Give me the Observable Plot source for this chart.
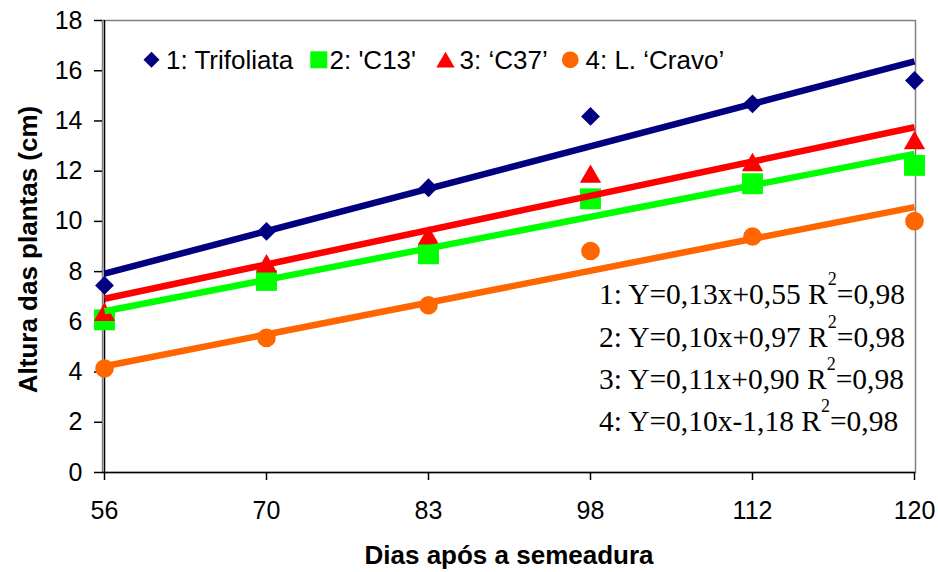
<!DOCTYPE html>
<html>
<head>
<meta charset="utf-8">
<script src="https://cdn.jsdelivr.net/npm/d3@7"></script>
<script src="https://cdn.jsdelivr.net/npm/@observablehq/plot@0.6"></script>
<style>
  html, body { margin: 0; padding: 0; background: #fff; }
</style>
</head>
<body>
<div id="chart"></div>
<script>
// ---- data ----
const days = ["56", "70", "83", "98", "112", "120"];
const seriesNames = ["1: Trifoliata", "2: 'C13'", "3: \u2018C37\u2019", "4: L. \u2018Cravo\u2019"];
const trifoliata = [7.45, 9.60, 11.34, 14.18, 14.68, 15.61];
const c13 = [6.08, 7.65, 8.71, 10.90, 11.50, 12.23];
const c37 = [6.40, 8.33, 9.44, 11.90, 12.36, 13.24];
const cravo = [4.14, 5.36, 6.66, 8.82, 9.40, 10.01];
const trendStart = [7.92, 6.42, 6.92, 4.23];
const trendEnd = [16.37, 12.69, 13.75, 10.57];
const equations = [
  "1: Y=0,13x+0,55 R\u00b2=0,98",
  "2: Y=0,10x+0,97 R\u00b2=0,98",
  "3: Y=0,11x+0,90 R\u00b2=0,98",
  "4: Y=0,10x-1,18 R\u00b2=0,98"
];
const yTicks = [0, 2, 4, 6, 8, 10, 12, 14, 16, 18];
const xTitle = "Dias após a semeadura";
const yTitle = "Altura das plantas (cm)";

// ---- styling ----
const allValues = [trifoliata, c13, c37, cravo];
const colors = ["#000080", "#00ff00", "#ff0000", "#ff6600"];
const symbols = ["diamond2", "square", "triangle", "circle"];
const radii = [8.5, 11.8, 7.9, 9.3];
const legendRadii = [7.2, 9.6, 6.8, 8.4];
const symbolDy = [0, 0, 3, 0];
const legendMarkerX = [151, 318.3, 445, 569.7];
const legendTextX = [165.5, 329, 459, 585];

const W = 938, H = 572;
const mL = 102, mR = 23, mT = 20, mB = 100;

const pointMarks = allValues.map((vals, i) =>
  Plot.dot(days.map((d, j) => ({day: d, value: vals[j]})), {
    x: "day", y: "value", symbol: () => symbols[i], r: radii[i],
    fill: colors[i], stroke: "none", dy: symbolDy[i]
  })
);
const trendMarks = allValues.map((vals, i) =>
  Plot.line([{day: days[0], value: trendStart[i]}, {day: days[days.length - 1], value: trendEnd[i]}], {
    x: "day", y: "value", stroke: colors[i], strokeWidth: 6.5, strokeLinecap: "butt"
  })
);
const legendMarks = seriesNames.flatMap((name, i) => [
  Plot.dot([name], {
    frameAnchor: "top-left", dx: legendMarkerX[i] - mL, dy: 39.3 + symbolDy[i] * 0.8,
    symbol: () => symbols[i], r: legendRadii[i], fill: colors[i], stroke: "none"
  }),
  Plot.text([name], {
    frameAnchor: "top-left", dx: legendTextX[i] - mL, dy: 40.3,
    text: d => d, textAnchor: "start", lineAnchor: "middle", fontSize: 26, fill: "#000"
  })
]);

const chart = Plot.plot({
  width: W, height: H,
  marginLeft: mL, marginRight: mR, marginTop: mT, marginBottom: mB,
  style: {fontFamily: "'Liberation Sans', Arial, sans-serif", fontSize: "25px", color: "#000", background: "#fff"},
  x: {type: "point", domain: days, padding: 0},
  y: {domain: [0, 18]},
  marks: [
    Plot.frame({stroke: "#808080", strokeWidth: 1.5}),
    Plot.ruleX([days[0]], {stroke: "#000", strokeWidth: 1.5}),
    Plot.ruleY([0], {stroke: "#000", strokeWidth: 1.5}),
    Plot.axisY({ticks: yTicks, tickSize: 8, tickPadding: 12, label: null, fontSize: 25, strokeWidth: 1.5, tickFormat: d => String(d)}),
    Plot.axisX({tickSize: 8, tickPadding: 21, label: null, fontSize: 25, strokeWidth: 1.5}),
    ...pointMarks,
    ...trendMarks,
    ...legendMarks,
    Plot.text([equations.join("\n")], {
      frameAnchor: "top-left", dx: 496.4, dy: 253.4, text: d => d,
      textAnchor: "start", lineAnchor: "top", lineHeight: 1.44,
      fontFamily: "'Liberation Serif', 'Times New Roman', serif", fontSize: 29.5, fill: "#000"
    }),
    Plot.text([xTitle], {
      frameAnchor: "bottom", dy: 82.7, text: d => d, lineAnchor: "middle",
      fontWeight: "bold", fontSize: 26, fill: "#000"
    }),
    Plot.text([yTitle], {
      frameAnchor: "left", dx: -73.6, dy: 3, rotate: -90, text: d => d,
      textAnchor: "middle", lineAnchor: "middle",
      fontWeight: "bold", fontSize: 26, fill: "#000"
    })
  ]
});

// superscript "2" in R² of the equations
d3.select(chart).selectAll("text, tspan").each(function () {
  const el = d3.select(this);
  if (this.childElementCount > 0) return;
  const t = el.text();
  const k = t.indexOf("\u00b2");
  if (k < 0) return;
  el.text("");
  el.append("tspan").text(t.slice(0, k));
  el.append("tspan").attr("font-size", 18).attr("dy", -19).text("2");
  el.append("tspan").attr("dy", 19).text(t.slice(k + 1));
});

document.getElementById("chart").appendChild(chart);
</script>
</body>
</html>
